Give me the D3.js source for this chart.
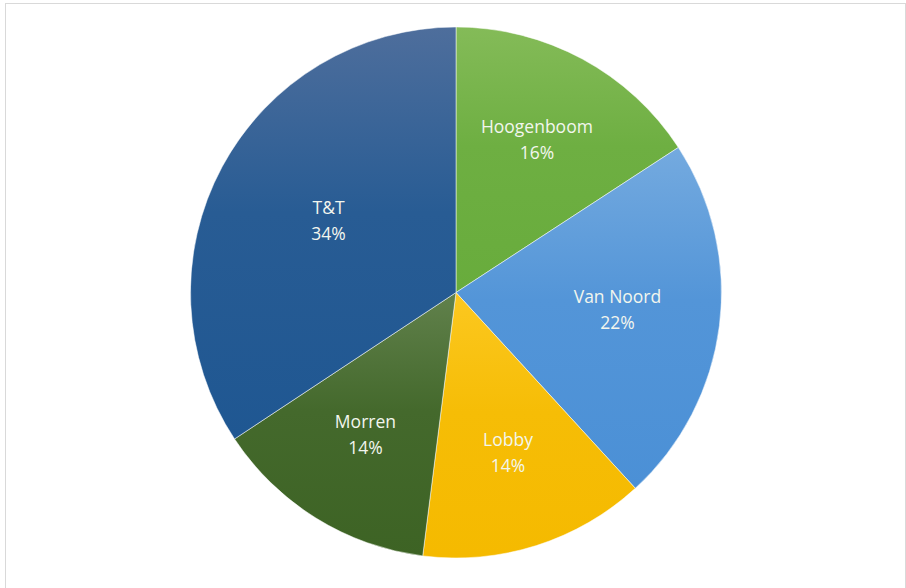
<!DOCTYPE html>
<html>
<head>
<meta charset="utf-8">
<script src="https://cdn.jsdelivr.net/npm/d3@7"></script>
<style>
  html, body { margin: 0; padding: 0; background: #ffffff; }
  svg { display: block; }
</style>
</head>
<body>
<svg id="chart" width="906" height="588"></svg>
<script>
// Data
const categories = ["Hoogenboom", "Van Noord", "Lobby", "Morren", "T&T"];
const values = [15.8, 22.4, 13.8, 13.7, 34.3];
const colorsTop = ["#84bb58", "#74aadf", "#fcc820", "#61814c", "#4e6e9c"];
const colorsBottom = ["#68ac3c", "#4b90d6", "#f5ba00", "#3d6324", "#1f5792"];

const W = 906, H = 588;
const svg = d3.select("#chart");

// chart area border
svg.append("rect")
  .attr("x", 5.5).attr("y", 3.5)
  .attr("width", 900).attr("height", 600)
  .attr("fill", "#ffffff")
  .attr("stroke", "#d9d9d9").attr("stroke-width", 1);

const cx = 456, cy = 292.5, r = 265.5;

const data = categories.map((c, i) => ({ name: c, value: values[i], i }));
const total = d3.sum(values);

const pie = d3.pie().value(d => d.value).sort(null);
const arcs = pie(data);
const arc = d3.arc().innerRadius(0).outerRadius(r);

const defs = svg.append("defs");
arcs.forEach((a, i) => {
  const g = defs.append("linearGradient")
    .attr("id", "grad" + i)
    .attr("x1", 0).attr("y1", 0).attr("x2", 0).attr("y2", 1);
  g.append("stop").attr("offset", "0%").attr("stop-color", colorsTop[i]);
  g.append("stop").attr("offset", "45%").attr("stop-color", d3.interpolateRgb(colorsTop[i], colorsBottom[i])(0.8));
  g.append("stop").attr("offset", "100%").attr("stop-color", colorsBottom[i]);
});

const g = svg.append("g").attr("transform", `translate(${cx},${cy})`);

g.selectAll("path.slice")
  .data(arcs)
  .join("path")
  .attr("class", "slice")
  .attr("d", arc)
  .attr("fill", (d, i) => `url(#grad${i})`)
  .attr("stroke", "#ffffff")
  .attr("stroke-opacity", 0.5)
  .attr("stroke-width", 1);

// labels at the area centroid of each sector
const fmt = d3.format(".0%");
const labels = g.selectAll("g.lab")
  .data(arcs)
  .join("g")
  .attr("class", "lab")
  .attr("transform", d => {
    const theta = d.endAngle - d.startAngle;
    const mid = (d.startAngle + d.endAngle) / 2;
    const dist = 4 * r * Math.sin(theta / 2) / (3 * theta);
    return `translate(${dist * Math.sin(mid)},${-dist * Math.cos(mid)})`;
  });

const font = "'Open Sans', 'Segoe UI', sans-serif";
labels.append("text")
  .attr("text-anchor", "middle")
  .attr("y", -10)
  .attr("font-family", font)
  .attr("font-size", 17.5)
  .attr("fill", "#f2f6ee")
  .text(d => d.data.name);

labels.append("text")
  .attr("text-anchor", "middle")
  .attr("y", 16)
  .attr("font-family", font)
  .attr("font-size", 17.5)
  .attr("fill", "#f2f6ee")
  .text(d => fmt(d.data.value / total));
</script>
</body>
</html>
